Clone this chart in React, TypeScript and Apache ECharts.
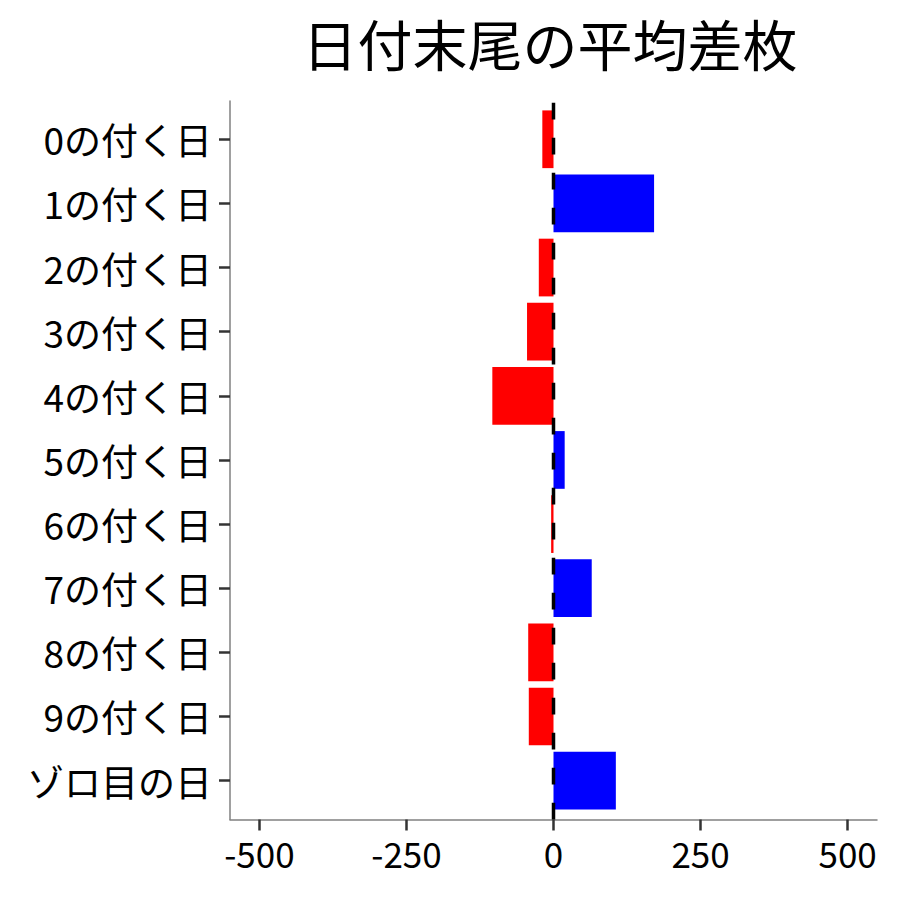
import React, { useEffect, useRef } from "react";
import * as echarts from "echarts";

const titleText = "日付末尾の平均差枚";
const categories = [
  "0の付く日",
  "1の付く日",
  "2の付く日",
  "3の付く日",
  "4の付く日",
  "5の付く日",
  "6の付く日",
  "7の付く日",
  "8の付く日",
  "9の付く日",
  "ゾロ目の日",
];
const avgDiff = [-19, 171, -25, -45, -104, 19, -4, 65, -43, -42, 106];
const xTicks = [-500, -250, 0, 250, 500];
const refLine = [
  [0, 0],
  [0, 1],
];

const FONT = "'Noto Sans CJK JP', 'Noto Sans', sans-serif";

export default function App() {
  const ref = useRef<HTMLDivElement>(null);
  useEffect(() => {
    if (!ref.current) return;
    const chart = echarts.init(ref.current, null, { renderer: "svg" });
    const gridLeft = 230;
    const gridRight = 23;
    chart.setOption({
      animation: false,
      backgroundColor: "#ffffff",
      title: {
        text: titleText,
        left: 545,
        top: 9,
        textAlign: "center",
        textStyle: {
          fontSize: 55,
          fontWeight: "normal",
          color: "#000000",
          fontFamily: FONT,
        },
      },
      grid: [
        {
          left: gridLeft,
          right: gridRight,
          top: 107.2,
          height: 705.5,
          outerBoundsMode: "none",
          containLabel: false,
        },
        {
          left: gridLeft,
          right: gridRight,
          top: 101,
          height: 718.5,
          outerBoundsMode: "none",
          containLabel: false,
        },
      ],
      xAxis: [
        {
          gridIndex: 0,
          type: "value",
          min: -550,
          max: 550,
          show: false,
        },
        {
          gridIndex: 1,
          type: "value",
          min: -550,
          max: 550,
          axisLine: {
            show: true,
            onZero: false,
            lineStyle: { color: "#808080", width: 1.5 },
          },
          axisTick: {
            show: true,
            length: 11,
            customValues: xTicks,
            lineStyle: { color: "#333333", width: 2.5 },
          },
          axisLabel: {
            show: true,
            customValues: xTicks,
            margin: 15,
            fontSize: 35,
            color: "#000000",
            fontFamily: FONT,
          },
          splitLine: { show: false },
        },
      ],
      yAxis: [
        {
          gridIndex: 0,
          type: "category",
          data: categories,
          inverse: true,
          boundaryGap: true,
          position: "left",
          axisLine: { show: false, onZero: false },
          axisTick: {
            show: true,
            alignWithLabel: true,
            length: 11,
            lineStyle: { color: "#333333", width: 2.5 },
          },
          axisLabel: {
            show: true,
            margin: 18,
            fontSize: 37,
            color: "#000000",
            fontFamily: FONT,
            interval: 0,
          },
          splitLine: { show: false },
        },
        {
          gridIndex: 1,
          type: "value",
          min: 0,
          max: 1,
          position: "left",
          axisLine: {
            show: true,
            onZero: false,
            lineStyle: { color: "#808080", width: 1.5 },
          },
          axisTick: { show: false },
          axisLabel: { show: false },
          splitLine: { show: false },
        },
      ],
      series: [
        {
          type: "bar",
          xAxisIndex: 0,
          yAxisIndex: 0,
          data: avgDiff,
          barWidth: "90%",
          itemStyle: {
            color: (p: any) => (p.value < 0 ? "#FF0000" : "#0000FF"),
          },
          z: 2,
        },
        {
          type: "line",
          xAxisIndex: 1,
          yAxisIndex: 1,
          data: refLine,
          symbol: "none",
          silent: true,
          lineStyle: {
            color: "#000000",
            width: 3.5,
            type: [16.7, 18.3],
            cap: "butt",
          },
          z: 5,
        },
      ],
    });
    return () => chart.dispose();
  }, []);
  return (
    <div
      ref={ref}
      style={{ position: "fixed", left: 0, top: 0, width: 900, height: 900 }}
    />
  );
}
